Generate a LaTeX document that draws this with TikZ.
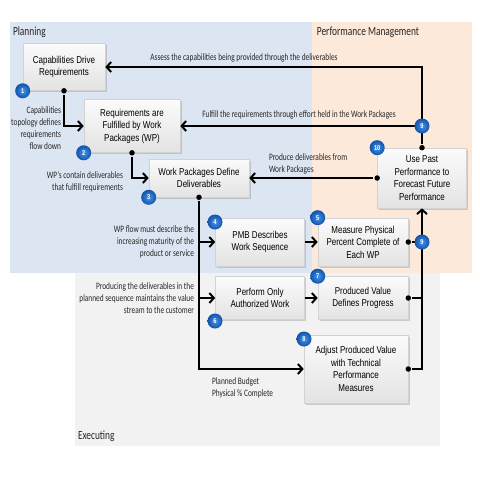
\documentclass[tikz,border=0pt]{standalone}
\usepackage{fontspec}
\setmainfont{Carlito}[FakeStretch=0.75]
\newfontfamily\boxfont{Liberation Sans}[FakeStretch=0.8]
\usepackage{tikz}
\usetikzlibrary{arrows.meta}
\usetikzlibrary{shadows}
\usepackage{xcolor}
\definecolor{planbg}{RGB}{220,230,242}
\definecolor{perfbg}{RGB}{253,233,217}
\definecolor{execbg}{RGB}{242,242,242}
\definecolor{badgeblue}{RGB}{18,82,170}
\definecolor{badgelight}{RGB}{70,150,235}

\begin{document}
\begin{tikzpicture}
	[x=1pt,y=-1pt,line width=2pt,
	box/.style = {
		draw=gray!35, line width=0.6pt,
		top color=gray!3, bottom color=gray!22,
		align=center, inner sep=2pt,
		font=\boxfont\fontsize{10}{12.5}\selectfont,
		drop shadow={shadow xshift=1.5pt, shadow yshift=-1.5pt, opacity=0.35}
	},
	badge/.style = {
		circle, inner color=badgelight, outer color=badgeblue, text=white,
		inner sep=0pt, minimum size=15pt,
		font=\boxfont\bfseries\fontsize{7}{7}\selectfont
	},
	note/.style = {
		inner sep=0pt, text=black!85,
		font=\fontsize{9.8}{12}\selectfont
	},
	title/.style = {
		inner sep=0pt, text=black!85,
		font=\fontsize{12.5}{14}\selectfont
	},
	wire/.style = {
		-{Straight Barb[length=4.5pt,width=10pt]}
	},
	dot/.style = {
		fill, circle, inner sep=0cm, minimum size=5.5pt
	}]
	
	\useasboundingbox (0,0) rectangle (480,480);
	
	%Draw regions
	\fill[execbg] (75,250) rectangle (440,446);
	\fill[planbg] (10,22) rectangle (312,273);
	\fill[perfbg] (312,22) rectangle (472,273);
	
	\node[title, anchor=west] at (12,32) (tplan) {Planning};
	\node[title] at (368,32) (tperf) {Performance Management};
	\node[title, anchor=west] at (77,436) (texec) {Executing};
	
	%Draw nodes
	\node[box, minimum width=82pt, minimum height=47pt] at (64,67) (cap) {Capabilities Drive\\Requirements};
	\node[box, minimum width=96pt, minimum height=53pt] at (132,126) (req) {Requirements are\\Fulfilled by Work\\Packages (WP)};
	\node[box, minimum width=100pt, minimum height=38pt] at (199,178) (wpd) {Work Packages Define\\Deliverables};
	\node[box, minimum width=89pt, minimum height=48pt] at (260,242) (pmb) {PMB Describes\\Work Sequence};
	\node[box, minimum width=90pt, minimum height=48pt] at (363,242) (meas) {Measure Physical\\Percent Complete of\\Each WP};
	\node[box, minimum width=89pt, minimum height=43pt] at (260,298) (auth) {Perform Only\\Authorized Work};
	\node[box, minimum width=90pt, minimum height=43pt] at (363,298) (prodv) {Produced Value\\Defines Progress};
	\node[box, minimum width=104pt, minimum height=68pt] at (356,369) (adj) {Adjust Produced Value\\with Technical\\Performance\\Measures};
	\node[box, minimum width=89pt, minimum height=60pt] at (422,178) (fcst) {Use Past\\Performance to\\Forecast Future\\Performance};
	
	\node[note, anchor=east, align=right] at (62,128) (ncap) {Capabilities\\topology defines\\requirements\\flow down};
	\node[note, anchor=east, align=right] at (124,182) (nreq) {WP’s contain deliverables\\that fulfill requirements};
	\node[note, anchor=east, align=right] at (195,242) (npmb) {WP flow must describe the\\increasing maturity of the\\product or service};
	\node[note, anchor=east, align=right] at (195,298) (nauth) {Producing the deliverables in the\\planned sequence maintains the value\\stream to the customer};
	\node[note, anchor=west, align=left] at (211,388) (nadj) {Planned Budget\\Physical \% Complete};
	\node[note] at (244,58) (nassess) {Assess the capabilities being provided through the deliverables};
	\node[note] at (299,115) (nfulfill) {Fulfill the requirements through effort held in the Work Packages};
	\node[note, anchor=west, align=left] at (268,164) (nprod) {Produce deliverables from\\Work Packages};
	
	\node[dot] at (cap.south) (d1) {};
	\node[dot] at (req.south) (d2) {};
	\node[dot] at (wpd.south) (d3) {};
	\node[dot] at (meas.east) (d5) {};
	\node[dot] at (prodv.east) (d7) {};
	\node[dot] at (adj.east) (d8) {};
	\node[dot] at (fcst.north) (d10) {};
	\node[dot] at (fcst.west) (d10w) {};
	
	\coordinate (j9a) at (422,126);
	\coordinate (j9b) at (422,242);
	
	%Draw wires
	\draw[wire] (d10) |- (cap.east);
	\draw[wire] (j9a) -- (req.east);
	\draw[wire] (d10w) -- (wpd.east);
	
	\draw[wire] (d1) |- (req.west);
	\draw[wire] (d2) |- (wpd.west);
	\draw[wire] (d3) |- (pmb.west);
	\draw[wire] (d3) |- (auth.west);
	\draw[wire] (d3) |- (adj.west);
	
	\draw[wire] (pmb) -- (meas);
	\draw[wire] (auth) -- (prodv);
	
	\draw (d5) -- (j9b);
	\draw (d7) -- (d7 -| j9b);
	\draw[wire] (d8) -| (fcst.south);
	
	%badges on top of the wires
	\node[badge] at (cap.south west) (b1) {1};
	\node[badge] at (req.south west) (b2) {2};
	\node[badge] at (wpd.south west) (b3) {3};
	\node[badge] at (215,222) (b4) {4};
	\node[badge] at (meas.north west) (b5) {5};
	\node[badge] at (215,321) (b6) {6};
	\node[badge] at (prodv.north west) (b7) {7};
	\node[badge] at (304,339) (b8) {8};
	\node[badge] at (j9a) (b9a) {9};
	\node[badge] at (j9b) (b9b) {9};
	\node[badge] at (fcst.north west) (b10) {10};
	
\end{tikzpicture}
\end{document}
